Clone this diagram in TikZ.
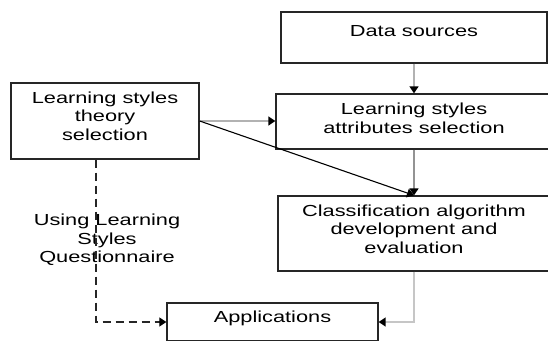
\documentclass[tikz,border=0pt]{standalone}
\usepackage{fontspec}
\setmainfont{Liberation Sans}[FakeStretch=1.36]
\usetikzlibrary{arrows.meta}

\begin{document}
\begin{tikzpicture}[
  x=1pt, y=-1pt,
  font=\fontsize{16}{18.5}\selectfont,
  box/.style={draw=black!85,line width=1.3pt,inner sep=0pt,align=center},
  arr/.style={-{Triangle[length=7pt,width=9pt,color=black]},line width=1.1pt},
  garr/.style={arr,draw=gray!60,line width=1.4pt},
  darr/.style={arr,draw=black!85,dash pattern=on 8pt off 5pt}
]
\clip (0,0) rectangle (548,340);
\node[box,minimum width=266,minimum height=51,text depth=13pt] (data) at (414,37.5) {Data sources};
\node[box,minimum width=276,minimum height=55,text depth=7pt] (attr) at (414,121.5) {Learning styles\\attributes selection};
\node[box,minimum width=188,minimum height=76,text depth=10pt] (theory) at (105,121) {Learning styles\\theory\\selection};
\node[box,minimum width=272,minimum height=75,text depth=9pt] (classif) at (414,233.5) {Classification algorithm\\development and\\evaluation};
\node[box,minimum width=211,minimum height=38,text depth=10pt] (apps) at (272.5,322) {Applications};
\node[align=center] (lsq) at (107,240) {Using Learning\\Styles\\Questionnaire};

\draw[garr] (data) -- (attr);
\draw[garr] (theory.east) -- (theory.east -| attr.west);
\draw[arr] (theory.east) -- (classif.north);
\draw[garr,draw=gray!85] (attr) -- (classif);
\draw[garr,draw=gray!45] (classif.south) |- (apps.east);
\draw[darr] ([xshift=-9pt]theory.south) |- (apps.west);
\end{tikzpicture}
\end{document}
